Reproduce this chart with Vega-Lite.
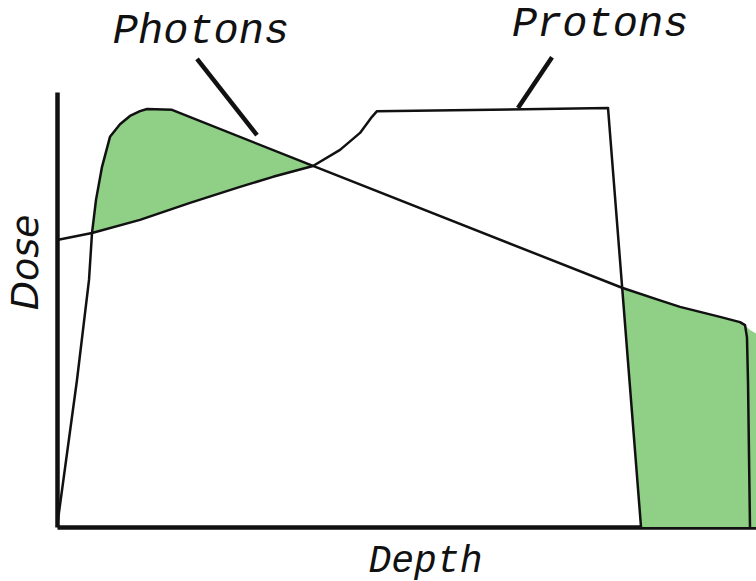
{
  "$schema": "https://vega.github.io/schema/vega-lite/v6.json",
  "width": 699,
  "height": 435,
  "autosize": {"type": "none"},
  "padding": {"left": 57, "top": 92, "right": 0, "bottom": 54},
  "background": "white",
  "config": {"view": {"stroke": null}},
  "datasets": {
    "fill1": [
      {"depth": 5.01, "dose": 67.6, "dose2": 67.6},
      {"depth": 5.58, "dose": 75.2, "dose2": 67.8},
      {"depth": 6.44, "dose": 82.8, "dose2": 68.2},
      {"depth": 7.58, "dose": 89.7, "dose2": 68.7},
      {"depth": 9.01, "dose": 92.6, "dose2": 69.3},
      {"depth": 10.44, "dose": 94.5, "dose2": 69.9},
      {"depth": 11.87, "dose": 95.6, "dose2": 70.6},
      {"depth": 12.88, "dose": 96.1, "dose2": 71.1},
      {"depth": 14.74, "dose": 96.0, "dose2": 72.1},
      {"depth": 16.45, "dose": 95.9, "dose2": 73.1},
      {"depth": 19.03, "dose": 94.2, "dose2": 74.5},
      {"depth": 23.32, "dose": 91.5, "dose2": 76.7},
      {"depth": 26.18, "dose": 89.7, "dose2": 78.2},
      {"depth": 30.9, "dose": 86.7, "dose2": 80.5},
      {"depth": 33.33, "dose": 85.1, "dose2": 81.5},
      {"depth": 36.62, "dose": 83.0, "dose2": 83.0}
    ],
    "fill2": [
      {"depth": 80.83, "dose": 55.0, "dose2": 55.0},
      {"depth": 81.4, "dose": 54.7, "dose2": 43.8},
      {"depth": 81.97, "dose": 54.4, "dose2": 32.1},
      {"depth": 82.69, "dose": 54.0, "dose2": 17.5},
      {"depth": 83.55, "dose": 53.6, "dose2": 0},
      {"depth": 86.27, "dose": 52.1, "dose2": 0},
      {"depth": 89.13, "dose": 50.6, "dose2": 0},
      {"depth": 91.99, "dose": 49.4, "dose2": 0},
      {"depth": 94.85, "dose": 48.3, "dose2": 0},
      {"depth": 97.71, "dose": 47.1, "dose2": 0},
      {"depth": 98.43, "dose": 46.4, "dose2": 0},
      {"depth": 99.14, "dose": 45.3, "dose2": 0},
      {"depth": 100, "dose": 44.5, "dose2": 0}
    ],
    "photons": [
      {"ord": 1, "depth": 0, "dose": 0},
      {"ord": 2, "depth": 2.86, "dose": 33.8},
      {"ord": 3, "depth": 4.58, "dose": 56.8},
      {"ord": 4, "depth": 5.01, "dose": 67.6},
      {"ord": 5, "depth": 5.58, "dose": 75.2},
      {"ord": 6, "depth": 6.44, "dose": 82.8},
      {"ord": 7, "depth": 7.58, "dose": 89.7},
      {"ord": 8, "depth": 9.01, "dose": 92.6},
      {"ord": 9, "depth": 10.44, "dose": 94.5},
      {"ord": 10, "depth": 11.87, "dose": 95.6},
      {"ord": 11, "depth": 12.88, "dose": 96.1},
      {"ord": 12, "depth": 16.45, "dose": 95.9},
      {"ord": 13, "depth": 36.62, "dose": 83.0},
      {"ord": 14, "depth": 80.83, "dose": 55.0},
      {"ord": 15, "depth": 86.27, "dose": 52.1},
      {"ord": 16, "depth": 89.13, "dose": 50.6},
      {"ord": 17, "depth": 94.85, "dose": 48.3},
      {"ord": 18, "depth": 97.71, "dose": 47.1},
      {"ord": 19, "depth": 98.43, "dose": 46.4},
      {"ord": 20, "depth": 98.71, "dose": 43.6},
      {"ord": 21, "depth": 98.86, "dose": 33.1},
      {"ord": 22, "depth": 99.14, "dose": 0}
    ],
    "protons": [
      {"ord": 1, "depth": 0, "dose": 66.0},
      {"ord": 2, "depth": 5.01, "dose": 67.6},
      {"ord": 3, "depth": 11.87, "dose": 70.6},
      {"ord": 4, "depth": 19.03, "dose": 74.5},
      {"ord": 5, "depth": 26.18, "dose": 78.2},
      {"ord": 6, "depth": 30.9, "dose": 80.5},
      {"ord": 7, "depth": 36.62, "dose": 83.0},
      {"ord": 8, "depth": 40.49, "dose": 86.7},
      {"ord": 9, "depth": 43.35, "dose": 90.6},
      {"ord": 10, "depth": 45.06, "dose": 94.3},
      {"ord": 11, "depth": 45.78, "dose": 95.6},
      {"ord": 12, "depth": 78.83, "dose": 96.3},
      {"ord": 13, "depth": 83.55, "dose": 0}
    ],
    "leaders": [
      {"depth": 20.03, "dose": 107.6, "depth2": 28.61, "dose2": 90.1},
      {"depth": 70.82, "dose": 108.0, "depth2": 65.95, "dose2": 96.3}
    ],
    "labels": [
      {"depth": 20.6, "dose": 111.3, "label": "Photons"},
      {"depth": 77.7, "dose": 112.9, "label": "Protons"}
    ]
  },
  "encoding": {
    "x": {
      "field": "depth",
      "type": "quantitative",
      "scale": {"domain": [0, 100], "nice": false, "zero": false},
      "axis": {
        "title": "Depth",
        "domainWidth": 4.5,
        "domainColor": "#111111",
        "ticks": false,
        "labels": false,
        "grid": false,
        "titleFont": "Liberation Mono",
        "titleFontSize": 38,
        "titleFontStyle": "italic",
        "titleFontWeight": "normal",
        "titleColor": "#111111",
        "titleX": 368,
        "titleY": 44,
        "titleAlign": "center",
        "titleBaseline": "alphabetic"
      }
    },
    "y": {
      "field": "dose",
      "type": "quantitative",
      "scale": {"domain": [0, 100], "nice": false, "zero": false},
      "axis": {
        "title": "Dose",
        "domainWidth": 4.5,
        "domainColor": "#111111",
        "ticks": false,
        "labels": false,
        "grid": false,
        "titleFont": "DejaVu Sans",
        "titleFontSize": 38,
        "titleFontStyle": "italic",
        "titleFontWeight": "normal",
        "titleColor": "#111111",
        "titleAngle": -90,
        "titleX": -20,
        "titleY": 170,
        "titleAlign": "center",
        "titleBaseline": "alphabetic"
      }
    }
  },
  "layer": [
    {
      "data": {"name": "fill1"},
      "mark": {"type": "area", "color": "#8fcf86", "opacity": 1},
      "encoding": {"y2": {"field": "dose2"}}
    },
    {
      "data": {"name": "fill2"},
      "mark": {"type": "area", "color": "#8fcf86", "opacity": 1},
      "encoding": {"y2": {"field": "dose2"}}
    },
    {
      "data": {"name": "photons"},
      "mark": {"type": "line", "color": "#111111", "strokeWidth": 2.5, "strokeJoin": "round"},
      "encoding": {"order": {"field": "ord", "type": "quantitative"}}
    },
    {
      "data": {"name": "protons"},
      "mark": {"type": "line", "color": "#111111", "strokeWidth": 2.5, "strokeJoin": "round"},
      "encoding": {"order": {"field": "ord", "type": "quantitative"}}
    },
    {
      "data": {"name": "leaders"},
      "mark": {"type": "rule", "color": "#111111", "strokeWidth": 4.5},
      "encoding": {"x2": {"field": "depth2"}, "y2": {"field": "dose2"}}
    },
    {
      "data": {"name": "labels"},
      "mark": {"type": "text", "font": "Liberation Mono", "fontStyle": "italic", "fontSize": 42, "align": "center", "baseline": "alphabetic", "color": "#111111"},
      "encoding": {"text": {"field": "label", "type": "nominal"}}
    }
  ]
}
